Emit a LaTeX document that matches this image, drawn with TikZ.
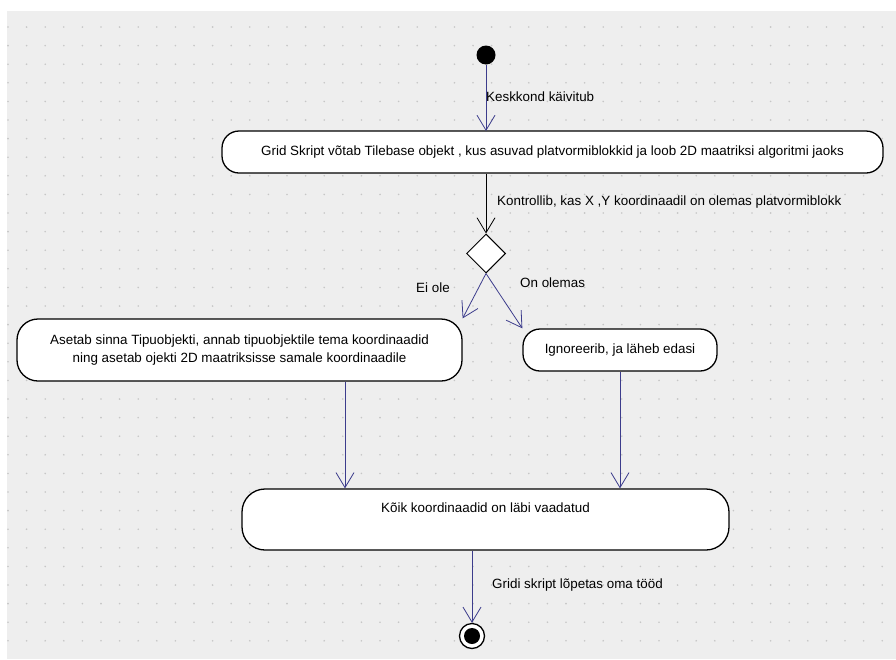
\documentclass[tikz,border=0pt]{standalone}
\usepackage{fontspec}
\setmainfont{Liberation Sans}
\usetikzlibrary{shapes.geometric,arrows.meta}
\definecolor{flow}{RGB}{60,60,140}
\definecolor{canvas}{RGB}{238,238,238}
\definecolor{griddot}{RGB}{198,198,198}

\begin{document}
\begin{tikzpicture}[x=1pt,y=-1pt,
  font=\fontsize{13.4}{18.5}\selectfont,
  action/.style={draw=black, line width=1.3pt, fill=white, rounded corners=17pt,
                 inner sep=0pt, align=center},
  barb/.style={-{Straight Barb[length=15pt,width=18pt,line width=0.8pt]}},
  flowarrow/.style={draw=flow, line width=0.8pt, barb},
  guardarrow/.style={draw=black, line width=0.9pt, barb},
  flowlabel/.style={anchor=west, inner sep=0pt}
]
\useasboundingbox (0,0) rectangle (896,659);
% canvas with dotted grid
\fill[white] (0,0) rectangle (896,659);
\fill[canvas] (7,11) rectangle (896,659);
\foreach \i in {0,...,47}
  \foreach \j in {0,...,33}
    \fill[griddot] (8+18.6*\i, 27+18.6*\j) circle (0.9pt);

% initial node
\node[circle, fill=black, minimum size=19pt, inner sep=0pt] (start) at (486,55) {};

% actions
\node[action, minimum width=661pt, minimum height=42pt] (load) at (552.5,152)
  {Grid Skript võtab Tilebase objekt , kus asuvad platvormiblokkid ja loob 2D maatriksi algoritmi jaoks};
\node[draw=black, line width=1pt, fill=white, diamond, aspect=1, inner sep=0pt,
      minimum width=39pt, minimum height=39pt] (check) at (486,253.5) {};
\node[action, minimum width=445pt, minimum height=62pt, rounded corners=21pt] (place) at (239.5,350)
  {Asetab sinna Tipuobjekti, annab tipuobjektile tema koordinaadid\\ning asetab ojekti 2D maatriksisse samale koordinaadile};
\node[action, minimum width=194pt, minimum height=42pt] (skip) at (620,350)
  {Ignoreerib, ja läheb edasi};
\node[action, minimum width=487pt, minimum height=61pt, rounded corners=23pt,
      text height=10pt, text depth=25pt] (done) at (485.5,519.5)
  {Kõik koordinaadid on läbi vaadatud};

% final node
\node[circle, draw=black, line width=1.3pt, fill=white, minimum size=25pt, inner sep=0pt] (finish) at (472,636) {};
\fill[black] (finish.center) circle (8pt);

% connectors
\coordinate (loadtop) at (486,131);
\draw[flowarrow] (start) -- (loadtop);
\draw[guardarrow] (load.south -| check.north) -- (check.north);
\draw[flowarrow] (check.south) -- (place.north east);
\draw[flowarrow] (check.south) -- (skip.north west);
\draw[flowarrow] (place.south -| 345,0) -- (done.north -| 345,0);
\draw[flowarrow] (skip.south) -- (done.north -| skip.south);
\draw[flowarrow] (done.south -| finish.north) -- (finish.north);

% guard and flow labels
\node[flowlabel] (l1) at (486,97) {Keskkond käivitub};
\node[flowlabel] (l2) at (497,202) {Kontrollib, kas X ,Y koordinaadil on olemas platvormiblokk};
\node[flowlabel] (l3) at (416,288) {Ei ole};
\node[flowlabel] (l4) at (520,283) {On olemas};
\node[flowlabel] (l5) at (492,585) {Gridi skript lõpetas oma tööd};
\end{tikzpicture}
\end{document}
